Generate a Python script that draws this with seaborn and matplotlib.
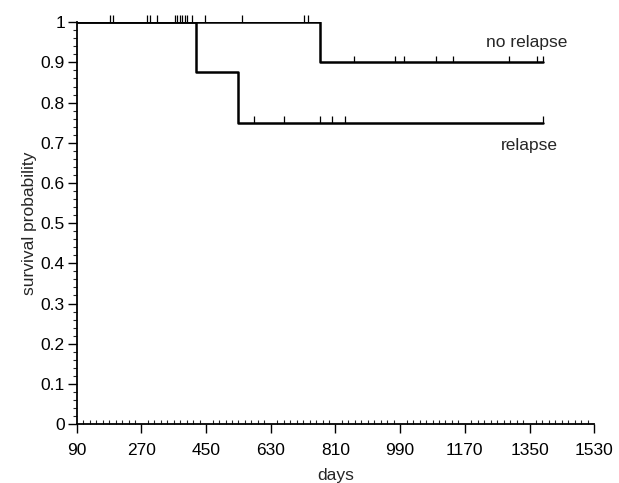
import numpy as np
import pandas as pd
import seaborn as sns
import matplotlib.pyplot as plt
from matplotlib.ticker import MultipleLocator

# Kaplan-Meier step data (days, survival probability)
relapse_days = [90, 423, 539, 1387]
relapse_surv = [1.0, 0.875, 0.75, 0.75]
norelapse_days = [90, 767, 1387]
norelapse_surv = [1.0, 0.9, 0.9]

# censoring marks
censor_top = [182, 191, 286, 295, 312, 364, 370, 377, 384, 391, 397, 412, 446, 551, 723, 734]
censor_relapse = [583, 666, 767, 801, 836, 1387]
censor_norelapse = [862, 976, 1002, 1091, 1137, 1292, 1371, 1387]

x_ticks = [90, 270, 450, 630, 810, 990, 1170, 1350, 1530]
y_ticks = [0, 0.1, 0.2, 0.3, 0.4, 0.5, 0.6, 0.7, 0.8, 0.9, 1]
y_labels = ['0', '0.1', '0.2', '0.3', '0.4', '0.5', '0.6', '0.7', '0.8', '0.9', '1']

sns.set_style('ticks')
plt.rcParams['font.family'] = ['Liberation Sans', 'DejaVu Sans']
plt.rcParams['font.size'] = 12.5

fig = plt.figure(figsize=(6.19, 4.83), dpi=100)
ax = fig.add_axes([0.124, 0.122, 0.836, 0.832])

df = pd.concat([
    pd.DataFrame({'days': relapse_days, 'surv': relapse_surv, 'group': 'relapse'}),
    pd.DataFrame({'days': norelapse_days, 'surv': norelapse_surv, 'group': 'no relapse'}),
])
sns.lineplot(data=df, x='days', y='surv', units='group', estimator=None,
             drawstyle='steps-post', color='black', linewidth=1.8, ax=ax, legend=False)

h = 0.017
ax.vlines(censor_top, 1.0, 1.0 + h, color='black', linewidth=0.9, clip_on=False)
ax.vlines(censor_relapse, 0.75, 0.75 + h, color='black', linewidth=0.9)
ax.vlines(censor_norelapse, 0.9, 0.9 + h, color='black', linewidth=0.9)

ax.text(1455, 0.95, 'no relapse', ha='right', va='center', fontsize=12.5)
ax.text(1430, 0.694, 'relapse', ha='right', va='center', fontsize=12.5)

ax.set_xlim(90, 1530)
ax.set_ylim(0, 1)
ax.set_xticks(x_ticks)
ax.set_yticks(y_ticks)
ax.set_yticklabels(y_labels)
ax.xaxis.set_minor_locator(MultipleLocator(18))
ax.yaxis.set_minor_locator(MultipleLocator(0.02))
ax.tick_params(axis='x', which='major', direction='out', length=6.5, width=1.0,
               colors='black', labelsize=12.5, pad=7)
ax.tick_params(axis='y', which='major', direction='out', length=6.5, width=1.0,
               colors='black', labelsize=12.5, pad=2)
ax.tick_params(axis='x', which='minor', direction='in', length=3, width=0.8)
ax.tick_params(axis='y', which='minor', direction='out', length=3, width=0.8)

sns.despine(ax=ax)
for s in ['left', 'bottom']:
    ax.spines[s].set_color('black')
    ax.spines[s].set_linewidth(1.3)

ax.set_xlabel('days', fontsize=12.5, labelpad=7)
ax.set_ylabel('survival probability', fontsize=12.5, labelpad=3)

fig.savefig('out.png', dpi=100)
